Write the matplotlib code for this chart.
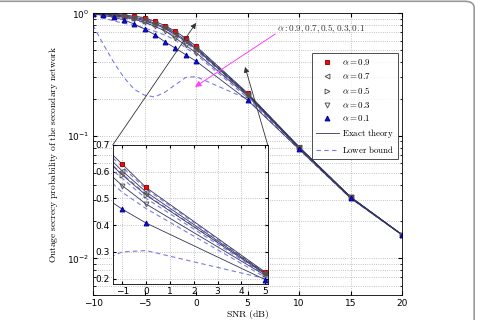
import matplotlib
matplotlib.use('Agg')
import matplotlib.pyplot as plt
from matplotlib.lines import Line2D
from matplotlib.patches import FancyBboxPatch

# SNR grid (dB)
snr = [-10, -9, -8, -7, -6, -5, -4, -3, -2, -1, 0, 5, 10, 15, 20]
alphas = ['0.9', '0.7', '0.5', '0.3', '0.1']

# simulated / exact outage secrecy probability
sim_09 = [1.0, 0.995, 0.985, 0.97, 0.95, 0.925, 0.86, 0.795, 0.715, 0.628, 0.541, 0.224, 0.0815, 0.0318, 0.0156]
sim_07 = [0.998, 0.99, 0.975, 0.955, 0.93, 0.895, 0.83, 0.77, 0.69, 0.603, 0.524, 0.22, 0.081, 0.0317, 0.0156]
sim_05 = [0.997, 0.985, 0.968, 0.945, 0.915, 0.875, 0.815, 0.755, 0.672, 0.588, 0.512, 0.217, 0.0805, 0.0316, 0.0156]
sim_03 = [0.995, 0.978, 0.958, 0.93, 0.893, 0.85, 0.785, 0.72, 0.63, 0.548, 0.479, 0.212, 0.08, 0.0315, 0.0156]
sim_01 = [0.99, 0.963, 0.93, 0.885, 0.82, 0.745, 0.67, 0.585, 0.52, 0.46, 0.408, 0.196, 0.078, 0.031, 0.0155]

# lower bounds
lb_09 = [0.995, 0.99, 0.98, 0.962, 0.94, 0.91, 0.85, 0.783, 0.703, 0.618, 0.535, 0.222, 0.081, 0.0317, 0.0156]
lb_07 = [0.99, 0.98, 0.963, 0.94, 0.91, 0.873, 0.812, 0.75, 0.672, 0.592, 0.515, 0.218, 0.0805, 0.0316, 0.0156]
lb_05 = [0.985, 0.97, 0.945, 0.915, 0.88, 0.84, 0.785, 0.725, 0.65, 0.575, 0.5, 0.214, 0.08, 0.0315, 0.0156]
lb_03 = [0.97, 0.92, 0.87, 0.83, 0.8, 0.76, 0.715, 0.665, 0.605, 0.523, 0.462, 0.205, 0.079, 0.0313, 0.0156]
lb_01 = [0.8, 0.56, 0.4, 0.3, 0.24, 0.215, 0.208, 0.228, 0.262, 0.3, 0.305, 0.2, 0.0775, 0.031, 0.0155]

sims = [sim_09, sim_07, sim_05, sim_03, sim_01]
lbs = [lb_09, lb_07, lb_05, lb_03, lb_01]

mk = ['s', '<', '>', 'v', '^']
mfc = ['#e01010', 'none', 'none', 'none', '#1010d0']
mec = ['#b00000', '#555555', '#555555', '#555555', '#0000a0']

line_c = '#34345a'
lb_c = '#7b7be6'
grid_kw = dict(color='#b0b0b0', linestyle=':', linewidth=0.6)


def cm(s):
    return r'$\mathrm{' + s.replace(' ', r'\ ') + '}$'


fig = plt.figure(figsize=(4.78, 3.2), dpi=100)
fig.patches.append(FancyBboxPatch((-0.02, -0.05), 1.012, 1.046, boxstyle='round,pad=0,rounding_size=0.02',
                                  transform=fig.transFigure, facecolor='none', edgecolor='#999999',
                                  linewidth=1.2, figure=fig))

ax = fig.add_axes([0.1946, 0.0775, 0.6464, 0.8805])
for l in lbs:
    ax.plot(snr, l, color=lb_c, linestyle='--', linewidth=0.8, dashes=(4, 3))
for y in sims:
    ax.plot(snr, y, color=line_c, linewidth=0.6)
for y, m, fc, ec in zip(sims, mk, mfc, mec):
    ax.plot(snr, y, linestyle='none', marker=m, markersize=3.5, markerfacecolor=fc,
            markeredgecolor=ec, markeredgewidth=0.7)

ax.set_yscale('log')
ax.set_xlim(-10, 20)
ax.set_ylim(0.005, 1)
ax.set_xticks([-10, -5, 0, 5, 10, 15, 20])
ax.grid(True, which='major', **grid_kw)
ax.grid(True, which='minor', axis='y', **grid_kw)
ax.tick_params(which='both', direction='in', top=True, right=True, labelsize=6.5, length=3, pad=2.5)
ax.tick_params(which='minor', length=1.8)
ax.set_xlabel(cm('SNR (dB)'), fontsize=7, labelpad=0)
ax.set_ylabel(cm('Outage secrecy probability of the secondary network'), fontsize=6.8, labelpad=5)
ax.xaxis.label.set_math_fontfamily('cm')
ax.yaxis.label.set_math_fontfamily('cm')
for sp in ax.spines.values():
    sp.set_linewidth(0.6)

# legend
handles = [Line2D([], [], linestyle='none', marker=m, markersize=3.5, markerfacecolor=fc,
                  markeredgecolor=ec, markeredgewidth=0.7) for m, fc, ec in zip(mk, mfc, mec)]
handles += [Line2D([], [], color=line_c, linewidth=0.6),
            Line2D([], [], color=lb_c, linestyle='--', linewidth=0.8, dashes=(4, 3))]
labels = [r'$\alpha = ' + a + '$' for a in alphas] + [cm('Exact theory'), cm('Lower bound')]
leg = ax.legend(handles, labels, loc='upper right', bbox_to_anchor=(0.987, 0.858), fontsize=6.4,
                frameon=True, fancybox=False, edgecolor='#222222', handlelength=2.6,
                labelspacing=0.42, borderpad=0.45, handletextpad=0.3, borderaxespad=0)
leg.get_frame().set_linewidth(0.7)
for t in leg.get_texts():
    t.set_math_fontfamily('cm')

# inset
ins = fig.add_axes([0.2358, 0.1125, 0.3243, 0.4344])
for l in lbs:
    ins.plot(snr, l, color=lb_c, linestyle='--', linewidth=0.8, dashes=(4, 3))
for y in sims:
    ins.plot(snr, y, color=line_c, linewidth=0.6)
for y, m, fc, ec in zip(sims, mk, mfc, mec):
    ins.plot(snr, y, linestyle='none', marker=m, markersize=3.5, markerfacecolor=fc,
             markeredgecolor=ec, markeredgewidth=0.7)
ins.set_xlim(-1.4, 5.1)
ins.set_ylim(0.18, 0.7)
ins.set_xticks([-1, 0, 1, 2, 3, 4, 5])
ins.set_yticks([0.2, 0.3, 0.4, 0.5, 0.6, 0.7])
ins.grid(True, **grid_kw)
ins.tick_params(direction='in', top=True, right=True, labelsize=6.5, length=2.5, pad=2)
for sp in ins.spines.values():
    sp.set_linewidth(0.6)

# zoom arrows from inset corners
akw = dict(arrowstyle='-|>', color='#333333', lw=0.6, mutation_scale=8, shrinkA=0, shrinkB=0)
ax.annotate('', xy=(0.0, 0.836), xycoords='data', xytext=(0, 1), textcoords=ins.transAxes,
            arrowprops=akw)
ax.annotate('', xy=(4.76, 0.366), xycoords='data', xytext=(1, 1), textcoords=ins.transAxes,
            arrowprops=akw)

# alpha annotation
ax.annotate('', xy=(-0.1, 0.251), xytext=(7.7, 0.68),
            arrowprops=dict(arrowstyle='-|>', color='#ff40ff', lw=0.7, mutation_scale=9,
                            shrinkA=0, shrinkB=0))
ax.text(7.85, 0.747, r'$\alpha: 0.9, 0.7, 0.5, 0.3, 0.1$', fontsize=6.6, color='#333333',
        va='center', ha='left', math_fontfamily='cm')

fig.savefig('out.png', dpi=100)
